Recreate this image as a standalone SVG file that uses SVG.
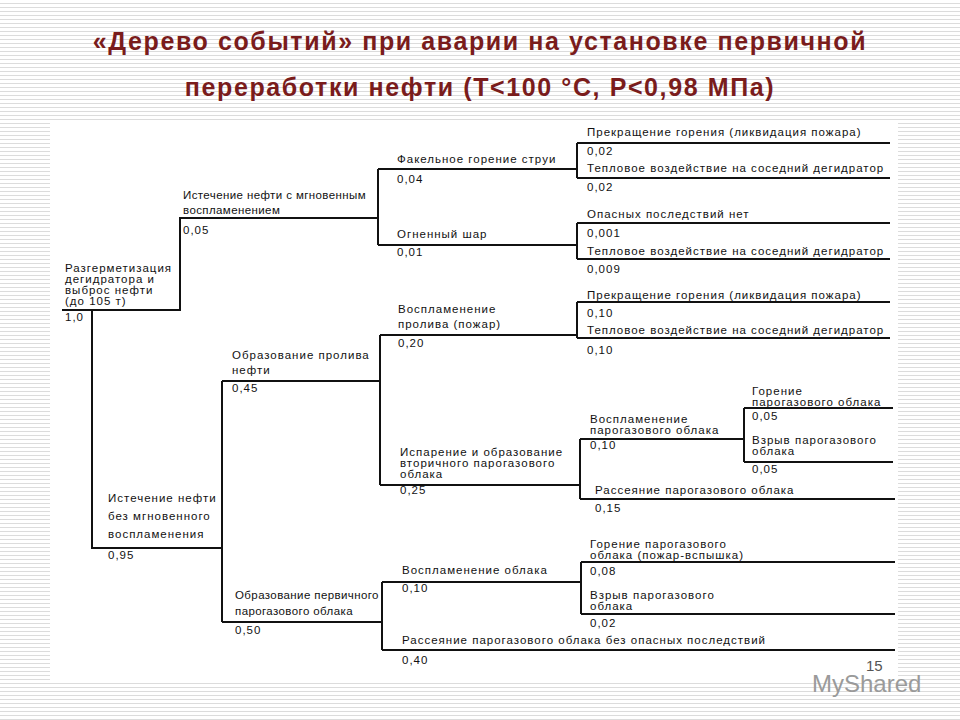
<svg xmlns="http://www.w3.org/2000/svg" width="960" height="720" viewBox="0 0 960 720">
<defs>
<pattern id="st" width="8" height="4" patternUnits="userSpaceOnUse"><rect width="8" height="4" fill="#fff"/><rect y="3" width="8" height="1" fill="#dcdcdc"/></pattern>
</defs>
<style>
text{font-family:"Liberation Sans",Arial,sans-serif;font-size:11.5px;letter-spacing:1px;fill:#111}
.t{font-size:25px;font-weight:bold;fill:#7a1c1c;text-anchor:middle;letter-spacing:1.6px}
.n{letter-spacing:0.4px}
.c path{fill:none;stroke:#111;stroke-width:2}
</style>
<rect width="960" height="720" fill="url(#st)"/>
<rect x="50" y="120" width="848" height="562" fill="#fff"/>
<text class="t" x="480" y="50">«Дерево событий» при аварии на установке первичной</text>
<text class="t" x="480" y="96">переработки нефти (Т&lt;100 °С, Р&lt;0,98 МПа)</text>
<g class="c">
<path d="M62 310H180V218H378"/>
<path d="M378 169V245M378 169H577M378 245H577"/>
<path d="M577 143V178M577 143H890M577 178H890"/>
<path d="M577 223V259M577 223H890M577 259H890"/>
<path d="M577 302V338M577 302H890M577 338H890"/>
<path d="M92 310V548H222"/>
<path d="M222 381V622M222 381H380M222 622H382"/>
<path d="M380 335V485M380 335H577M380 485H580"/>
<path d="M580 439V499M580 439H744M580 499H895"/>
<path d="M744 408V462M744 408H893M744 462H893"/>
<path d="M382 582V650M382 582H581M382 650H895"/>
<path d="M581 562V614M581 562H895M581 614H895"/>
</g>
<g id="n-root"><text x="65" y="272">Разгерметизация</text><text x="65" y="283">дегидратора и</text><text x="65" y="294">выброс нефти</text><text x="65" y="305">(до 105 т)</text><text x="65" y="321">1,0</text></g>
<g id="n-a"><text class="n" x="183" y="199">Истечение нефти с мгновенным</text><text class="n" x="183" y="214">воспламенением</text><text x="183" y="234">0,05</text></g>
<g id="n-a1"><text x="397" y="163">Факельное горение струи</text><text x="397" y="183">0,04</text></g>
<g id="n-a2"><text x="397" y="238">Огненный шар</text><text x="397" y="256">0,01</text></g>
<g id="n-l1"><text x="587" y="136">Прекращение горения (ликвидация пожара)</text><text x="587" y="155">0,02</text><text x="587" y="172">Тепловое воздействие на соседний дегидратор</text><text x="587" y="191">0,02</text></g>
<g id="n-l2"><text x="587" y="218">Опасных последствий нет</text><text x="587" y="237">0,001</text><text x="587" y="255">Тепловое воздействие на соседний дегидратор</text><text x="587" y="273">0,009</text></g>
<g id="n-b"><text x="108" y="502">Истечение нефти</text><text x="108" y="520">без мгновенного</text><text x="108" y="538">воспламенения</text><text x="108" y="559">0,95</text></g>
<g id="n-b1"><text x="232" y="359">Образование пролива</text><text x="232" y="374">нефти</text><text x="232" y="392">0,45</text></g>
<g id="n-b11"><text x="398" y="313">Воспламенение</text><text x="398" y="328">пролива (пожар)</text><text x="398" y="347">0,20</text></g>
<g id="n-l3"><text x="587" y="299">Прекращение горения (ликвидация пожара)</text><text x="587" y="317">0,10</text><text x="587" y="334">Тепловое воздействие на соседний дегидратор</text><text x="587" y="354">0,10</text></g>
<g id="n-b12"><text x="400" y="456">Испарение и образование</text><text x="400" y="467">вторичного парогазового</text><text x="400" y="478">облака</text><text x="400" y="494">0,25</text></g>
<g id="n-b121"><text x="590" y="423">Воспламенение</text><text x="590" y="434">парогазового облака</text><text x="590" y="449">0,10</text></g>
<g id="n-l4"><text x="752" y="395">Горение</text><text x="752" y="406">парогазового облака</text><text x="752" y="420">0,05</text><text x="752" y="444">Взрыв парогазового</text><text x="752" y="455">облака</text><text x="752" y="473">0,05</text></g>
<g id="n-b122"><text x="595" y="494">Рассеяние парогазового облака</text><text x="595" y="512">0,15</text></g>
<g id="n-b2"><text class="n" x="235" y="599">Образование первичного</text><text class="n" x="235" y="615">парогазового облака</text><text x="235" y="634">0,50</text></g>
<g id="n-b21"><text x="402" y="574">Воспламенение облака</text><text x="402" y="592">0,10</text></g>
<g id="n-l5"><text x="590" y="548">Горение парогазового</text><text x="590" y="559">облака (пожар-вспышка)</text><text x="590" y="575">0,08</text><text x="590" y="599">Взрыв парогазового</text><text x="590" y="610">облака</text><text x="590" y="627">0,02</text></g>
<g id="n-b22"><text x="402" y="644">Рассеяние парогазового облака без опасных последствий</text><text x="402" y="664">0,40</text></g>
<text x="812" y="692" style="font-size:24px;letter-spacing:0;fill:#9a9a9a">MyShared</text>
<text x="866" y="671" style="font-size:15px;letter-spacing:0;fill:#555">15</text>
</svg>
